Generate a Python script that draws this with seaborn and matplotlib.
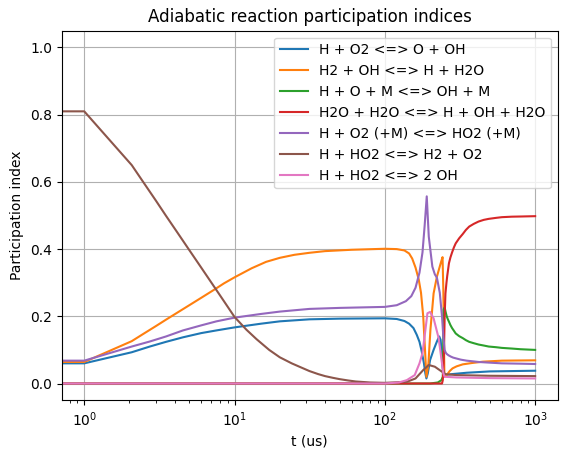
import matplotlib
matplotlib.use("Agg")
import matplotlib.pyplot as plt
import seaborn as sns
import numpy as np

labels = [
    "H + O2 <=> O + OH",
    "H2 + OH <=> H + H2O",
    "H + O + M <=> OH + M",
    "H2O + H2O <=> H + OH + H2O",
    "H + O2 (+M) <=> HO2 (+M)",
    "H + HO2 <=> H2 + O2",
    "H + HO2 <=> 2 OH",
]

t_blue = [0, 1, 2.07, 2.73, 3.5, 4.54, 6, 7.58, 10, 15, 20, 31.5, 50, 100, 120, 135, 145, 155,
          163, 170, 176, 182, 186, 189, 193, 200, 211, 222, 230, 235, 238, 241, 245, 255, 280,
          350, 500, 1000]
v_blue = [0.06, 0.06, 0.093, 0.11, 0.124, 0.1375, 0.15, 0.158, 0.167, 0.178, 0.185, 0.191, 0.193,
          0.194, 0.192, 0.186, 0.178, 0.165, 0.145, 0.124, 0.095, 0.06, 0.03, 0.015, 0.03, 0.07,
          0.1, 0.125, 0.14, 0.13, 0.1, 0.06, 0.03, 0.026, 0.028, 0.032, 0.036, 0.038]

t_orange = [0, 1, 2.07, 2.5, 3, 3.5, 4.2, 5, 6, 7.37, 8.5, 10, 13, 16.2, 20, 25, 31.5, 40, 60,
            100, 120, 135, 145, 152, 160, 168, 174, 180, 185, 189, 195, 201, 211, 222, 236, 242,
            245, 249, 258, 270, 282, 300, 330, 380, 450, 600, 1000]
v_orange = [0.064, 0.064, 0.126, 0.149, 0.171, 0.19, 0.212, 0.233, 0.255, 0.28, 0.298, 0.316,
            0.343, 0.362, 0.374, 0.383, 0.389, 0.394, 0.398, 0.401, 0.4, 0.396, 0.387, 0.372,
            0.345, 0.31, 0.27, 0.2, 0.1, 0.02, 0.06, 0.16, 0.268, 0.318, 0.36, 0.376, 0.278,
            0.02, 0.025, 0.037, 0.045, 0.051, 0.057, 0.061, 0.065, 0.068, 0.069]

t_green = [0, 100, 200, 225, 238, 243, 246, 250, 254, 258, 262, 267, 273, 280, 288, 296, 312,
           330, 346, 364, 390, 420, 455, 491, 550, 600, 700, 800, 1000]
v_green = [0.0, 0.0, 0.0, 0.003, 0.01, 0.02, 0.22, 0.226, 0.212, 0.2, 0.192, 0.184, 0.174, 0.165,
           0.157, 0.149, 0.141, 0.135, 0.129, 0.124, 0.12, 0.116, 0.113, 0.11, 0.108, 0.106,
           0.104, 0.102, 0.1]

t_red = [0, 100, 200, 240, 243, 246, 248, 250, 253, 257, 260, 267, 273, 280, 288, 296, 312, 330,
         346, 364, 390, 420, 455, 491, 550, 600, 700, 800, 1000]
v_red = [0.0, 0.0, 0.0, 0.0, 0.01, 0.06, 0.12, 0.2, 0.268, 0.3, 0.32, 0.358, 0.375, 0.39, 0.405,
         0.417, 0.432, 0.445, 0.457, 0.467, 0.475, 0.482, 0.487, 0.49, 0.493, 0.495, 0.4965,
         0.497, 0.498]

t_purple = [0, 1, 2.07, 2.73, 3.5, 4.54, 6, 7.58, 10, 15, 20, 31.5, 50, 100, 120, 138, 150, 160,
            170, 178, 184, 190, 196, 207, 215, 222, 232, 240, 245, 250, 254, 258, 265, 275, 285,
            296, 320, 350, 385, 422, 500, 600, 800, 1000]
v_purple = [0.068, 0.068, 0.11, 0.125, 0.14, 0.158, 0.173, 0.185, 0.196, 0.207, 0.214, 0.222,
            0.225, 0.228, 0.233, 0.245, 0.26, 0.285, 0.33, 0.39, 0.47, 0.557, 0.437, 0.348, 0.325,
            0.315, 0.27, 0.2, 0.139, 0.1, 0.092, 0.088, 0.084, 0.08, 0.077, 0.075, 0.071, 0.068,
            0.066, 0.064, 0.062, 0.06, 0.059, 0.058]

t_brown = [0, 1, 2.07, 2.5, 3, 3.5, 4.2, 5, 6, 7.37, 8.5, 10, 12, 14, 17, 20, 24, 27, 31.5, 36,
           40, 45, 50, 57, 64, 80, 100, 140, 160, 180, 196, 215, 228, 240, 245, 250, 300, 500,
           1000]
v_brown = [0.81, 0.81, 0.65, 0.596, 0.544, 0.499, 0.447, 0.397, 0.345, 0.286, 0.245, 0.198, 0.16,
           0.132, 0.1, 0.078, 0.06, 0.05, 0.037, 0.028, 0.022, 0.017, 0.013, 0.009, 0.006, 0.003,
           0.002, 0.005, 0.015, 0.04, 0.055, 0.05, 0.042, 0.035, 0.04, 0.028, 0.025, 0.023, 0.022]

t_pink = [0, 100, 124, 140, 158, 170, 178, 185, 192, 200, 211, 228, 240, 245, 250, 300, 500, 1000]
v_pink = [0.0, 0.0, 0.003, 0.01, 0.025, 0.06, 0.09, 0.15, 0.209, 0.213, 0.194, 0.135, 0.06, 0.03,
          0.02, 0.018, 0.016, 0.015]

series = [(t_blue, v_blue), (t_orange, v_orange), (t_green, v_green), (t_red, v_red),
          (t_purple, v_purple), (t_brown, v_brown), (t_pink, v_pink)]
colors = sns.color_palette("tab10", 7)

fig = plt.figure(figsize=(5.67, 4.57), dpi=100)
ax = fig.add_axes([61.7 / 567, (457 - 400.3) / 457, 496 / 567, 369.6 / 457])

for (tt, vv), lab, c in zip(series, labels, colors):
    sns.lineplot(x=np.array(tt, dtype=float), y=np.array(vv), ax=ax, color=c, label=lab,
                 sort=False, estimator=None, linewidth=1.5, legend=False)

ax.set_xscale("log")
ax.set_xlim(10 ** -0.15, 10 ** 3.15)
ax.set_ylim(-0.05, 1.05)
ax.grid(True)
ax.set_title("Adiabatic reaction participation indices")
ax.set_xlabel("t (us)")
ax.set_ylabel("Participation index")
handles = ax.get_lines()
ax.legend(handles, labels, loc="upper right")

fig.savefig("out.png", dpi=100)
